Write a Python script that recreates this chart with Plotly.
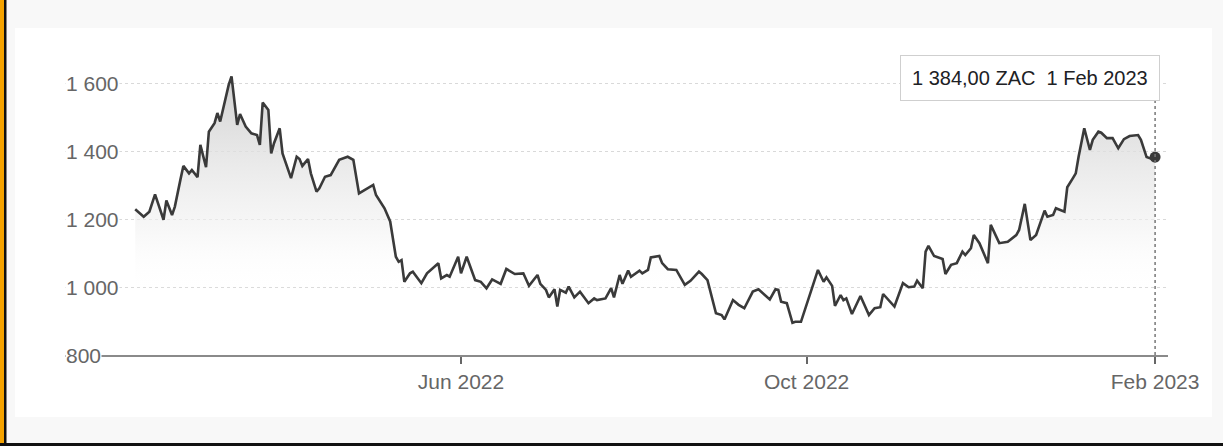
import plotly.graph_objects as go
import pandas as pd

# ---------------- data ----------------
dates = [
    "2022-02-06", "2022-02-09", "2022-02-11", "2022-02-13", "2022-02-16", "2022-02-17", "2022-02-19",
    "2022-02-20", "2022-02-22", "2022-02-23", "2022-02-25", "2022-02-26", "2022-02-28",
    "2022-03-01", "2022-03-03", "2022-03-04", "2022-03-06", "2022-03-07", "2022-03-08", "2022-03-10",
    "2022-03-11", "2022-03-12", "2022-03-14", "2022-03-15", "2022-03-17", "2022-03-19", "2022-03-21",
    "2022-03-22", "2022-03-23", "2022-03-25", "2022-03-26", "2022-03-27", "2022-03-29", "2022-03-30",
    "2022-04-02", "2022-04-04", "2022-04-05", "2022-04-06", "2022-04-08", "2022-04-09", "2022-04-11",
    "2022-04-12", "2022-04-14", "2022-04-16", "2022-04-18", "2022-04-19", "2022-04-22", "2022-04-24",
    "2022-04-26",
    "2022-05-01", "2022-05-02", "2022-05-05", "2022-05-07", "2022-05-09", "2022-05-10", "2022-05-11",
    "2022-05-12", "2022-05-14", "2022-05-15", "2022-05-18", "2022-05-20", "2022-05-22", "2022-05-24",
    "2022-05-25", "2022-05-27", "2022-05-28", "2022-05-31",
    "2022-06-01", "2022-06-03", "2022-06-06", "2022-06-08", "2022-06-10", "2022-06-12", "2022-06-15",
    "2022-06-17", "2022-06-20", "2022-06-23", "2022-06-25", "2022-06-28", "2022-06-29",
    "2022-07-01", "2022-07-02", "2022-07-04", "2022-07-05", "2022-07-06", "2022-07-08", "2022-07-09",
    "2022-07-11", "2022-07-13", "2022-07-16", "2022-07-18", "2022-07-19", "2022-07-22", "2022-07-24",
    "2022-07-25", "2022-07-27", "2022-07-28", "2022-07-30", "2022-07-31",
    "2022-08-03", "2022-08-04", "2022-08-06", "2022-08-07", "2022-08-10", "2022-08-11", "2022-08-13",
    "2022-08-16", "2022-08-19", "2022-08-21", "2022-08-24", "2022-08-25", "2022-08-27", "2022-08-30",
    "2022-09-01", "2022-09-02", "2022-09-05", "2022-09-07", "2022-09-09", "2022-09-12", "2022-09-14",
    "2022-09-18", "2022-09-20", "2022-09-21", "2022-09-22", "2022-09-24", "2022-09-26", "2022-09-27",
    "2022-09-29",
    "2022-10-02", "2022-10-05", "2022-10-07", "2022-10-08", "2022-10-10", "2022-10-11", "2022-10-13",
    "2022-10-14", "2022-10-15", "2022-10-17", "2022-10-20", "2022-10-23", "2022-10-25", "2022-10-27",
    "2022-10-28",
    "2022-11-01", "2022-11-04", "2022-11-06", "2022-11-08", "2022-11-09", "2022-11-11", "2022-11-12",
    "2022-11-13", "2022-11-15", "2022-11-18", "2022-11-19", "2022-11-21", "2022-11-23", "2022-11-25",
    "2022-11-26", "2022-11-28", "2022-11-29",
    "2022-12-01", "2022-12-04", "2022-12-05", "2022-12-08", "2022-12-11", "2022-12-14", "2022-12-15",
    "2022-12-17", "2022-12-19", "2022-12-21", "2022-12-24", "2022-12-25", "2022-12-27", "2022-12-28",
    "2022-12-31",
    "2023-01-01", "2023-01-03", "2023-01-04", "2023-01-05", "2023-01-07", "2023-01-09", "2023-01-10",
    "2023-01-12", "2023-01-13", "2023-01-15", "2023-01-17", "2023-01-19", "2023-01-21", "2023-01-23",
    "2023-01-26", "2023-01-27", "2023-01-29", "2023-01-31", "2023-02-01",
]

prices = [
    1230, 1208, 1223, 1274, 1199, 1256, 1213,
    1238, 1319, 1358, 1336, 1346, 1325,
    1420, 1354, 1459, 1484, 1514, 1489, 1558,
    1597, 1622, 1479, 1511, 1474, 1454, 1449,
    1420, 1545, 1523, 1395, 1425, 1469, 1395,
    1322, 1385, 1378, 1358, 1378, 1336, 1282,
    1292, 1326, 1331, 1364, 1376, 1385, 1376,
    1277,
    1302, 1272, 1233, 1194, 1090, 1075, 1080,
    1016, 1041, 1046, 1012, 1041, 1056, 1071,
    1026, 1036, 1031, 1090,
    1041, 1090, 1021, 1016, 997, 1023, 1010,
    1054, 1039, 1041, 1004, 1036, 1010,
    992, 970, 994, 943, 992, 984, 1002,
    970, 987, 953, 967, 962, 967, 997,
    970, 1036, 1010, 1049, 1031,
    1049, 1041, 1051, 1088, 1092, 1071, 1053,
    1051, 1007, 1019, 1046, 1039, 1021, 923,
    918, 905, 962, 948, 938, 987, 994,
    964, 994, 992, 957, 953, 895, 898,
    898,
    972, 1051, 1016, 1029, 1004, 945, 977,
    962, 967, 921, 974, 918, 938, 941,
    980,
    943, 1012, 1000, 1002, 1019, 997, 1105,
    1122, 1092, 1083, 1039, 1066, 1071, 1105,
    1095, 1115, 1154,
    1130, 1071, 1184, 1130, 1134, 1154, 1169,
    1246, 1139, 1154, 1226, 1208, 1213, 1233,
    1223,
    1295, 1322, 1336, 1385, 1469, 1405, 1435,
    1459, 1456, 1440, 1440, 1410, 1437, 1446,
    1449, 1435, 1384, 1378, 1384,
]

y_ticks = [800, 1000, 1200, 1400, 1600]
y_tick_text = ["800", "1 000", "1 200", "1 400", "1 600"]
x_ticks = ["2022-06-01", "2022-10-01", "2023-02-01"]
x_tick_text = ["Jun 2022", "Oct 2022", "Feb 2023"]
tooltip_text = "1 384,00 ZAC  1 Feb 2023"

# ---------------- geometry ----------------
W, H = 1223, 446
L, R, T, B = 65, 1168, 50, 355
PW, PH = R - L, B - T


def px(x):
    return (x - L) / PW


def py(y):
    return (B - y) / PH


FONT = "Liberation Sans, Arial, sans-serif"
px_per_day = 2.833
jun1 = pd.Timestamp("2022-06-01")
x_lo = jun1 + pd.Timedelta(days=(L - 461) / px_per_day)
x_hi = jun1 + pd.Timedelta(days=(R - 461) / px_per_day)

fig = go.Figure()

fig.add_trace(go.Scatter(
    x=dates, y=prices, mode="lines",
    line=dict(color="#3a3a3a", width=2.6),
    fill="tozeroy",
    fillgradient=dict(
        type="vertical",
        colorscale=[[0, "rgba(255,255,255,0)"], [0.3, "rgba(242,242,242,0.6)"], [1, "rgba(205,205,205,0.9)"]],
        start=980, stop=1620,
    ),
    hoverinfo="skip", showlegend=False,
))

fig.add_trace(go.Scatter(
    x=[dates[-1]], y=[prices[-1]], mode="markers",
    marker=dict(size=11, color="#3a3a3a"),
    hoverinfo="skip", showlegend=False,
))

shapes = [
    # white card
    dict(type="rect", xref="paper", yref="paper", x0=px(15), x1=px(1212), y0=py(417), y1=py(28),
         fillcolor="white", line=dict(width=0), layer="below"),
    # orange left border
    dict(type="rect", xref="paper", yref="paper", x0=px(0), x1=px(4), y0=py(446), y1=py(0),
         fillcolor="#f5a300", line=dict(width=0), layer="above"),
    dict(type="rect", xref="paper", yref="paper", x0=px(4), x1=px(6.5), y0=py(446), y1=py(0),
         fillcolor="#111111", line=dict(width=0), layer="above"),
    # bottom black border
    dict(type="rect", xref="paper", yref="paper", x0=px(0), x1=px(W), y0=py(446), y1=py(443),
         fillcolor="#111111", line=dict(width=0), layer="above"),
    # dotted vertical hover line
    dict(type="line", xref="x", yref="paper", x0=dates[-1], x1=dates[-1], y0=0, y1=py(101),
         line=dict(color="#777777", width=1.5, dash="dot"), layer="above"),
]

annotations = []
for v, t in zip(y_ticks, y_tick_text):
    annotations.append(dict(
        x=0, xref="paper", xanchor="left", y=v, yref="y", yanchor="middle",
        text=t, showarrow=False, font=dict(family=FONT, size=21, color="#666666"),
        bgcolor="white", borderpad=0,
    ))

annotations.append(dict(
    x=dates[-1], xref="x", xanchor="right", xshift=5,
    y=py(78), yref="paper", yanchor="middle",
    text=tooltip_text, showarrow=False,
    font=dict(family=FONT, size=20, color="#202124"),
    bgcolor="white", bordercolor="#cfcfcf", borderwidth=1, borderpad=11,
))

fig.update_layout(
    width=W, height=H,
    margin=dict(l=L, r=W - R, t=T, b=H - B, pad=0),
    paper_bgcolor="#f8f8f8",
    plot_bgcolor="rgba(0,0,0,0)",
    shapes=shapes,
    annotations=annotations,
    showlegend=False,
    hovermode=False,
    xaxis=dict(
        type="date", range=[x_lo, x_hi],
        tickvals=x_ticks, ticktext=x_tick_text,
        ticks="outside", ticklen=7, tickwidth=1.5, tickcolor="#666666",
        tickfont=dict(family=FONT, size=21, color="#666666"),
        showline=True, linecolor="#8a8a8a", linewidth=2,
        showgrid=False, zeroline=False, fixedrange=True,
    ),
    yaxis=dict(
        range=[800, 1700], tickvals=y_ticks, showticklabels=False,
        showgrid=True, gridcolor="#d9d9d9", gridwidth=1, griddash="dot",
        zeroline=False, showline=False, ticks="", fixedrange=True,
    ),
)

fig.write_html(
    "out.html",
    config={"displayModeBar": False},
    post_script="document.body.style.margin='0px';document.body.style.overflow='hidden';",
)
